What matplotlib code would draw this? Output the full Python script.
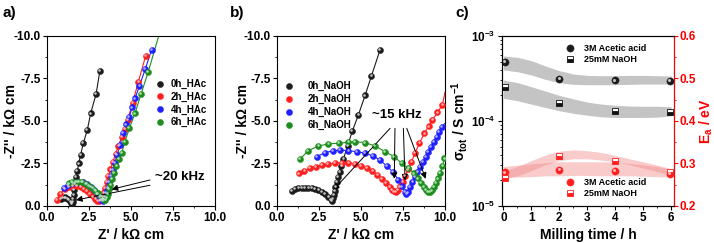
"""Nyquist plots (HAc / NaOH treated) and milling-time trends of sigma and Ea."""

import matplotlib
matplotlib.use('Agg')
from matplotlib import pyplot
from matplotlib import transforms
from matplotlib.ticker import AutoMinorLocator, FormatStrFormatter


# ---- a) HAc treated samples: Z' and -Z'' (kOhm cm) ----
hac_0h_x = [0.85, 0.95, 1.05, 1.15, 1.25, 1.33, 1.40, 1.45, 1.49, 1.52, 1.55, 1.58,
            1.62, 1.67, 1.73, 1.80, 1.89, 2.00, 2.16, 2.40, 2.60, 2.92, 3.15]
hac_0h_y = [0.42, 0.48, 0.50, 0.48, 0.42, 0.34, 0.25, 0.17, 0.12, 0.22, 0.40, 0.65,
            0.95, 1.30, 1.72, 2.05, 2.50, 3.00, 3.69, 4.47, 5.45, 6.57, 7.96]
hac_2h_x = [0.60, 0.80, 1.05, 1.30, 1.55, 1.80, 2.00, 2.20, 2.40, 2.58, 2.74, 2.88,
            3.00, 3.12, 3.22, 3.30, 3.38, 3.46, 3.55, 3.65, 3.78, 3.92, 4.08, 4.25,
            4.45, 4.62, 4.80, 5.10, 5.44, 5.87]
hac_2h_y = [0.35, 0.72, 0.98, 1.12, 1.18, 1.18, 1.12, 1.02, 0.88, 0.72, 0.56, 0.42,
            0.32, 0.28, 0.34, 0.55, 0.80, 1.08, 1.40, 1.75, 2.15, 2.58, 3.05, 3.55,
            4.05, 4.55, 5.06, 6.08, 7.31, 8.82]
hac_4h_x = [1.00, 1.25, 1.52, 1.82, 2.12, 2.40, 2.62, 2.82, 2.98, 3.12, 3.24, 3.33,
            3.40, 3.46, 3.53, 3.61, 3.70, 3.80, 3.91, 4.03, 4.17, 4.35, 4.54, 4.72,
            4.90, 5.07, 5.24, 5.50, 5.85, 6.23]
hac_4h_y = [1.08, 1.24, 1.36, 1.42, 1.40, 1.30, 1.14, 0.94, 0.74, 0.54, 0.38, 0.30,
            0.36, 0.55, 0.80, 1.08, 1.40, 1.75, 2.12, 2.52, 2.98, 3.59, 4.31, 4.80,
            5.25, 5.80, 6.33, 7.05, 8.05, 9.20]
hac_6h_x = [1.31, 1.50, 1.70, 1.90, 2.10, 2.30, 2.50, 2.70, 2.88, 3.04, 3.18, 3.30,
            3.40, 3.48, 3.55, 3.62, 3.70, 3.78, 3.88, 4.00, 4.13, 4.28, 4.45, 4.64,
            4.90, 5.24, 5.60, 6.03]
hac_6h_y = [1.33, 1.40, 1.44, 1.44, 1.40, 1.32, 1.20, 1.06, 0.90, 0.74, 0.58, 0.45,
            0.37, 0.36, 0.50, 0.72, 0.98, 1.25, 1.58, 1.95, 2.35, 2.75, 3.14, 3.78,
            4.57, 5.45, 6.59, 7.90]
hac_6h_fit_end = (6.65, 10.0)
hac_labels = ['0h_HAc', '2h_HAc', '4h_HAc', '6h_HAc']

# ---- b) NaOH treated samples ----
naoh_0h_x = [0.87, 1.07, 1.27, 1.47, 1.67, 1.87, 2.06, 2.26, 2.46, 2.66, 2.86, 3.06,
             3.21, 3.29, 3.34, 3.38, 3.43, 3.48, 3.55, 3.63, 3.72, 3.83, 3.95, 4.20,
             4.48, 4.84, 5.24, 5.62, 6.13]
naoh_0h_y = [0.90, 0.98, 1.04, 1.06, 1.08, 1.08, 1.06, 1.02, 0.94, 0.84, 0.71, 0.55,
             0.39, 0.29, 0.45, 0.65, 0.88, 1.12, 1.40, 1.70, 2.02, 2.38, 2.75, 3.55,
             4.40, 5.35, 6.50, 7.65, 9.18]
naoh_2h_x = [1.30, 1.63, 1.96, 2.30, 2.66, 3.05, 3.45, 3.85, 4.25, 4.64, 5.00, 5.35,
             5.68, 5.98, 6.25, 6.50, 6.70, 6.86, 6.98, 7.08, 7.20, 7.33, 7.47, 7.62,
             7.80, 8.00, 8.21, 8.48, 8.77, 9.02, 9.25, 9.55, 9.84]
naoh_2h_y = [1.92, 2.08, 2.22, 2.32, 2.41, 2.47, 2.52, 2.55, 2.53, 2.46, 2.36, 2.22,
             2.04, 1.84, 1.60, 1.36, 1.14, 0.96, 0.86, 0.85, 0.95, 1.15, 1.42, 1.75,
             2.15, 2.60, 3.10, 3.70, 4.27, 4.68, 5.06, 5.50, 5.94]
naoh_2h_fit_end = (10.0, 6.7)
naoh_4h_x = [2.36, 2.86, 3.31, 3.75, 4.25, 4.74, 5.24, 5.73, 6.13, 6.53, 6.88, 7.22,
             7.45, 7.60, 7.70, 7.80, 7.92, 8.06, 8.21, 8.36, 8.51, 8.68, 8.85, 9.00,
             9.17, 9.33, 9.50, 9.65, 9.80]
naoh_4h_y = [2.90, 3.14, 3.24, 3.29, 3.25, 3.20, 3.10, 2.94, 2.70, 2.35, 2.02, 1.55,
             1.15, 0.85, 0.72, 0.80, 1.10, 1.42, 1.73, 2.02, 2.31, 2.60, 2.90, 3.20,
             3.49, 3.78, 4.08, 4.38, 4.67]
naoh_4h_fit_end = (10.0, 4.86)
naoh_6h_x = [1.37, 1.85, 2.46, 3.06, 3.66, 4.25, 4.64, 5.24, 5.83, 6.43, 6.98, 7.42,
             7.82, 8.17, 8.40, 8.58, 8.74, 8.88, 9.00, 9.10, 9.22, 9.35, 9.48, 9.60,
             9.72, 9.84, 9.96]
naoh_6h_y = [2.75, 3.25, 3.53, 3.65, 3.69, 3.75, 3.78, 3.73, 3.53, 3.20, 2.90, 2.51,
             2.22, 1.92, 1.62, 1.35, 1.12, 0.95, 0.84, 0.82, 0.92, 1.10, 1.35, 1.62,
             1.95, 2.35, 2.80]
naoh_6h_fit_end = (10.0, 2.95)
naoh_labels = ['0h_NaOH', '2h_NaOH', '4h_NaOH', '6h_NaOH']

# ---- c) conductivity and activation energy vs milling time ----
mill_t = [0.05, 2.0, 4.0, 5.95]
sigma_hac = [4.9e-4, 3.1e-4, 3.0e-4, 2.98e-4]
sigma_naoh = [2.49e-4, 1.62e-4, 1.32e-4, 1.28e-4]
ea_hac = [0.279, 0.285, 0.282, 0.2745]
ea_naoh = [0.265, 0.318, 0.305, 0.279]

band_t = [0.0, 0.5, 1.0, 1.5, 2.0, 2.5, 3.0, 3.5, 4.0, 4.5, 5.0, 5.5, 6.0]
sigma_hac_hi = [5.82e-4, 5.61e-4, 5.13e-4, 4.44e-4, 3.91e-4, 3.57e-4, 3.44e-4,
                3.41e-4, 3.41e-4, 3.44e-4, 3.44e-4, 3.41e-4, 3.38e-4]
sigma_hac_lo = [3.98e-4, 3.80e-4, 3.48e-4, 3.09e-4, 2.82e-4, 2.70e-4, 2.67e-4,
                2.67e-4, 2.67e-4, 2.70e-4, 2.72e-4, 2.72e-4, 2.72e-4]
sigma_naoh_hi = [3.03e-4, 2.83e-4, 2.53e-4, 2.25e-4, 2.00e-4, 1.82e-4, 1.67e-4,
                 1.58e-4, 1.53e-4, 1.50e-4, 1.49e-4, 1.49e-4, 1.47e-4]
sigma_naoh_lo = [1.85e-4, 1.73e-4, 1.58e-4, 1.44e-4, 1.32e-4, 1.23e-4, 1.17e-4,
                 1.12e-4, 1.10e-4, 1.10e-4, 1.10e-4, 1.11e-4, 1.15e-4]
ea_naoh_hi = [0.281, 0.293, 0.307, 0.320, 0.329, 0.332, 0.330, 0.326, 0.319,
              0.311, 0.304, 0.296, 0.288]
ea_naoh_lo = [0.263, 0.271, 0.283, 0.297, 0.307, 0.311, 0.311, 0.308, 0.304,
              0.297, 0.289, 0.281, 0.273]
ea_hac_hi = [0.293, 0.296, 0.299, 0.302, 0.304, 0.304, 0.304, 0.304, 0.303,
             0.300, 0.297, 0.293, 0.286]
ea_hac_lo = [0.268, 0.268, 0.269, 0.271, 0.271, 0.272, 0.272, 0.271, 0.271,
             0.271, 0.270, 0.269, 0.268]
legend_c = ['3M Acetic acid', '25mM NaOH']

colors = ['#1c1c1c', '#ff1f1f', '#1f1fff', '#1f8c1f']
lights = ['#d8d8d8', '#ffc0c0', '#c0c0ff', '#b8ecb8']


def balls(ax, x, y, color, light, size=4.4, label=None):
    """Draw shaded 'sphere' markers: a coloured disc plus a small highlight."""
    h, = ax.plot(x, y, linestyle='none', marker='o', markersize=size,
                 markerfacecolor=color, markeredgecolor=color,
                 markeredgewidth=0.3, label=label, zorder=3)
    shift = transforms.offset_copy(ax.transData, fig=ax.figure,
                                   x=-0.6, y=0.6, units='points')
    ax.plot(x, y, linestyle='none', marker='o', markersize=size * 0.42,
            markerfacecolor=light, markeredgewidth=0, alpha=0.9,
            transform=shift, zorder=4)
    return h


def style_nyquist(ax):
    ax.set_xlim(0, 10)
    ax.set_ylim(0, -10)
    ax.set_xticks([0, 2.5, 5, 7.5, 10])
    ax.set_yticks([0, -2.5, -5, -7.5, -10])
    ax.xaxis.set_major_formatter(FormatStrFormatter('%.1f'))
    ax.yaxis.set_major_formatter(FormatStrFormatter('%.1f'))
    ax.xaxis.set_minor_locator(AutoMinorLocator(2))
    ax.yaxis.set_minor_locator(AutoMinorLocator(2))
    ax.tick_params(which='major', direction='out', length=3, width=0.8, pad=1.5)
    ax.tick_params(which='minor', direction='out', length=1.5, width=0.6)
    ax.set_xlabel("Z' / k\u03a9 cm", fontsize=10, labelpad=3)
    ax.set_ylabel("-Z'' / k\u03a9 cm", fontsize=10)


pyplot.rc('font', family='Liberation Sans', weight='bold', size=8.5)
pyplot.rc('axes', labelweight='bold', linewidth=0.8)
pyplot.rc('mathtext', fontset='custom', rm='Liberation Sans:bold',
          bf='Liberation Sans:bold', it='Liberation Sans:bold', default='bf')

fig = pyplot.figure(figsize=(7.14, 2.43), dpi=100)
ax_a = fig.add_axes([0.0658, 0.1523, 0.2353, 0.6996])
ax_b = fig.add_axes([0.3880, 0.1523, 0.2353, 0.6996])
ax_c = fig.add_axes([0.7031, 0.1523, 0.2409, 0.6996])

# ---- panel a ----
series_a = [(hac_0h_x, hac_0h_y), (hac_2h_x, hac_2h_y),
            (hac_4h_x, hac_4h_y), (hac_6h_x, hac_6h_y)]
handles = []
for i, (x, y) in enumerate(series_a):
    xs, ys = list(x), list(y)
    if i == 3:
        xs.append(hac_6h_fit_end[0])
        ys.append(hac_6h_fit_end[1])
    ax_a.plot(xs, [-v for v in ys], color=colors[i], linewidth=0.8, zorder=2)
    handles.append(balls(ax_a, x, [-v for v in y], colors[i], lights[i],
                         label=hac_labels[i]))
style_nyquist(ax_a)
ax_a.yaxis.set_label_coords(-0.17, 0.5)
ax_a.legend(handles=handles, loc='upper left', bbox_to_anchor=(0.644, 0.745),
            frameon=False, fontsize=7, handlelength=1.0, handletextpad=0.6,
            labelspacing=0.25, borderpad=0, borderaxespad=0)
arrow = dict(arrowstyle='-|>', color='black', linewidth=0.7, mutation_scale=9,
             shrinkA=0, shrinkB=0)
ax_a.annotate('', xy=(3.85, -0.98), xytext=(6.13, -1.53), arrowprops=arrow)
ax_a.annotate('', xy=(1.73, -0.35), xytext=(6.13, -1.22), arrowprops=arrow)
ax_a.text(6.4, -1.7, '~20 kHz', fontsize=9.5, ha='left', va='center')

# ---- panel b ----
series_b = [(naoh_0h_x, naoh_0h_y, None), (naoh_2h_x, naoh_2h_y, naoh_2h_fit_end),
            (naoh_4h_x, naoh_4h_y, naoh_4h_fit_end),
            (naoh_6h_x, naoh_6h_y, naoh_6h_fit_end)]
handles = []
for i, (x, y, end) in enumerate(series_b):
    xs, ys = list(x), list(y)
    if end is not None:
        xs.append(end[0])
        ys.append(end[1])
    ax_b.plot(xs, [-v for v in ys], color=colors[i], linewidth=0.8, zorder=2)
    handles.append(balls(ax_b, x, [-v for v in y], colors[i], lights[i],
                         label=naoh_labels[i]))
style_nyquist(ax_b)
ax_b.yaxis.set_label_coords(-0.16, 0.5)
ax_b.legend(handles=handles, loc='upper left', bbox_to_anchor=(0.04, 0.735),
            frameon=False, fontsize=7, handlelength=1.0, handletextpad=1.5,
            labelspacing=0.3, borderpad=0, borderaxespad=0)
ax_b.annotate('', xy=(3.35, -0.94), xytext=(6.73, -4.57), arrowprops=arrow)
ax_b.annotate('', xy=(6.98, -1.6), xytext=(7.02, -4.57), arrowprops=arrow)
ax_b.annotate('', xy=(7.62, -1.5), xytext=(7.52, -4.57), arrowprops=arrow)
ax_b.annotate('', xy=(8.85, -1.6), xytext=(7.72, -4.57), arrowprops=arrow)
ax_b.text(7.14, -5.35, '~15 kHz', fontsize=9.5, ha='center', va='center')

# ---- panel c ----
ax_c.set_yscale('log')
ax_c.fill_between(band_t, sigma_hac_lo, sigma_hac_hi, color='#c4c4c4',
                  linewidth=0, zorder=1)
ax_c.fill_between(band_t, sigma_naoh_lo, sigma_naoh_hi, color='#c4c4c4',
                  linewidth=0, zorder=1)
h1 = balls(ax_c, mill_t, sigma_hac, '#1c1c1c', '#d8d8d8', size=5.2,
           label=legend_c[0])
h2, = ax_c.plot(mill_t, sigma_naoh, linestyle='none', marker='s', markersize=5,
                fillstyle='bottom', markerfacecolor='#111111',
                markerfacecoloralt='white', markeredgecolor='#111111',
                markeredgewidth=0.6, label=legend_c[1], zorder=3)
ax_c.set_xlim(-0.05, 6.1)
ax_c.set_ylim(1e-5, 1e-3)
ax_c.set_xticks(range(7))
ax_c.xaxis.set_minor_locator(AutoMinorLocator(2))
ax_c.set_yticks([1e-5, 1e-4, 1e-3])
ax_c.set_yticklabels([r'$10^{-5}$', r'$10^{-4}$', r'$10^{-3}$'])
ax_c.tick_params(which='major', direction='out', length=3, width=0.8, pad=1.5)
ax_c.tick_params(which='minor', direction='out', length=1.5, width=0.6)
ax_c.set_xlabel('Milling time / h', fontsize=10, labelpad=3)
ax_c.set_ylabel(r'$\sigma_{tot}$ / S cm$^{-1}$', fontsize=10)
ax_c.yaxis.set_label_coords(-0.185, 0.5)
ax_c.legend(handles=[h1, h2], loc='upper left', bbox_to_anchor=(0.37, 0.95),
            frameon=False, fontsize=6.5, handlelength=1.0, handletextpad=1.0,
            labelspacing=0.2, borderpad=0, borderaxespad=0)

ax_e = ax_c.twinx()
ax_e.fill_between(band_t, ea_naoh_lo, ea_naoh_hi, color='#f28c8c', alpha=0.45,
                  linewidth=0, zorder=1)
ax_e.fill_between(band_t, ea_hac_lo, ea_hac_hi, color='#f28c8c', alpha=0.45,
                  linewidth=0, zorder=1)
h3 = balls(ax_e, mill_t, ea_hac, '#ff1f1f', '#ffc4c4', size=5.2,
           label=legend_c[0])
h4, = ax_e.plot(mill_t, ea_naoh, linestyle='none', marker='s', markersize=5,
                fillstyle='bottom', markerfacecolor='#ff1f1f',
                markerfacecoloralt='white', markeredgecolor='#ff1f1f',
                markeredgewidth=0.6, label=legend_c[1], zorder=3)
ax_e.set_ylim(0.2, 0.6)
ax_e.set_yticks([0.2, 0.3, 0.4, 0.5, 0.6])
ax_e.yaxis.set_major_formatter(FormatStrFormatter('%.1f'))
ax_e.yaxis.set_minor_locator(AutoMinorLocator(2))
ax_e.tick_params(which='major', direction='out', length=3, width=0.8, pad=1,
                 colors='red', labelsize=8.5)
ax_e.tick_params(which='minor', direction='out', length=1.5, width=0.6,
                 colors='red')
ax_e.spines['right'].set_color('red')
ax_e.set_ylabel(r'E$_a$ / eV', color='red', fontsize=10)
ax_e.yaxis.set_label_coords(1.135, 0.5)
ax_e.legend(handles=[h3, h4], loc='upper left', bbox_to_anchor=(0.37, 0.165),
            frameon=False, fontsize=6.5, handlelength=1.0, handletextpad=1.0,
            labelspacing=0.2, borderpad=0, borderaxespad=0)

# Panel letters.
fig.text(0.003, 0.975, 'a)', fontsize=11, va='top')
fig.text(0.322, 0.975, 'b)', fontsize=11, va='top')
fig.text(0.638, 0.975, 'c)', fontsize=11, va='top')

fig.savefig('out.png', dpi=100)
